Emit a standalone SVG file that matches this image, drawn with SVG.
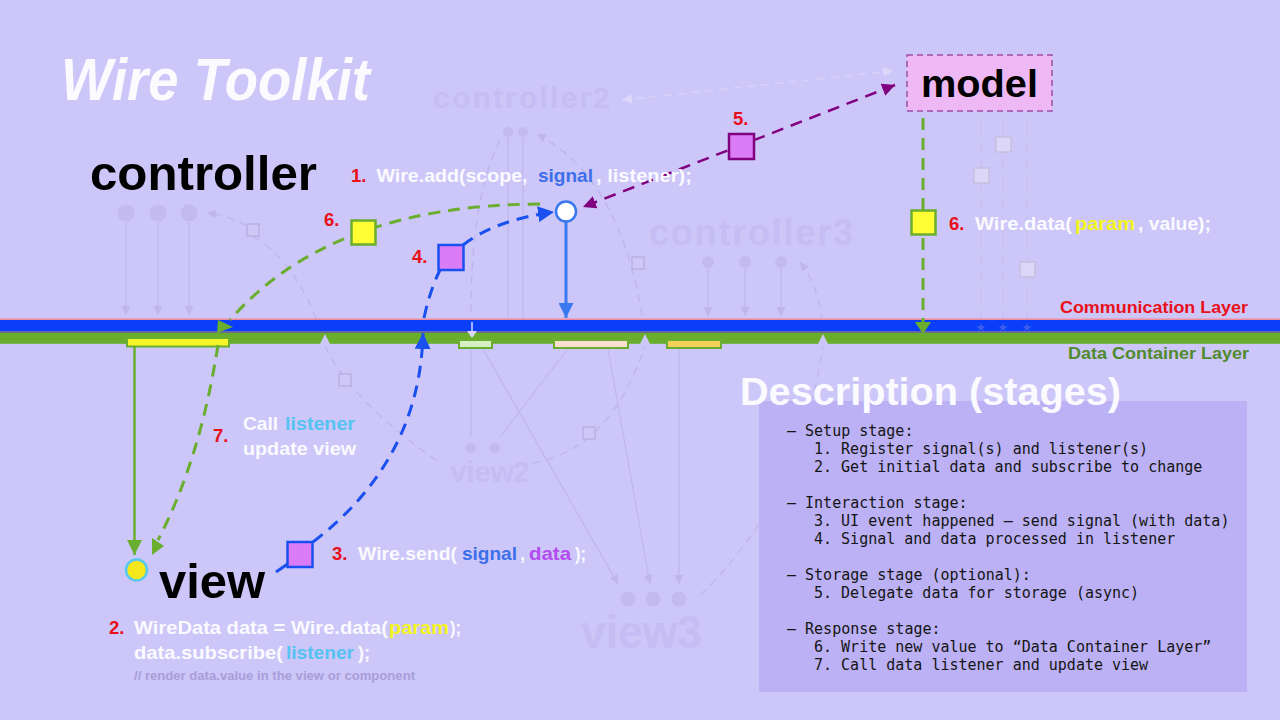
<svg xmlns="http://www.w3.org/2000/svg" width="1280" height="720" viewBox="0 0 1280 720">
<defs>
<style>
.lbl{font-family:"Liberation Sans",Arial,sans-serif;font-weight:bold}
.w{fill:#FAFAFF}
.red{fill:#E8101A}
.sig{fill:#3C6FEA}
.lis{fill:#55C3F2}
.par{fill:#F5F51E}
.dat{fill:#B44CF0}
.ghostT{font-family:"Liberation Sans",Arial,sans-serif;font-weight:bold;fill:#C5BDF3}
.gl{stroke:#BFB7EC;stroke-width:1.2;fill:none}
.gd{stroke:#BFB7EC;stroke-width:1.4;fill:none;stroke-dasharray:8 6}
.gc{fill:#C3BAEF}
.gsq{fill:#CFC8F6;stroke:#B8B0E0;stroke-width:1.4}
.gm{stroke:#C8C2E8;stroke-width:1.5;fill:none;stroke-dasharray:8 6}
.gmsq{fill:#DCD7F8;stroke:#C6C0E0;stroke-width:1.5}
.mono{font-family:"DejaVu Sans Mono","Liberation Mono",monospace;font-size:15px;fill:#151515}
.gdash{stroke:#6AAE2F;stroke-width:3;fill:none;stroke-dasharray:12 8}
.bdash{stroke:#1A50F0;stroke-width:3;fill:none;stroke-dasharray:12 8}
.pdash{stroke:#800080;stroke-width:2.5;fill:none;stroke-dasharray:12 8}
.psq{fill:#DA7CF6;stroke-width:2.5}
.ysq{fill:#FFFF33;stroke:#6AAE2F;stroke-width:2.5}
.dbox{stroke:#6AAE2F;stroke-width:2}
</style>
<marker id="aBlue" viewBox="0 0 10 10" refX="10" refY="5" markerWidth="15" markerHeight="15" markerUnits="userSpaceOnUse" orient="auto"><path d="M0,0 L10,5 L0,10z" fill="#3A78F0"/></marker>
<marker id="aBlueD" viewBox="0 0 10 10" refX="10" refY="5" markerWidth="16" markerHeight="16" markerUnits="userSpaceOnUse" orient="auto"><path d="M0,0 L10,5 L0,10z" fill="#1A50F0"/></marker>
<marker id="aPur" viewBox="0 0 10 10" refX="10" refY="5" markerWidth="13" markerHeight="13" markerUnits="userSpaceOnUse" orient="auto-start-reverse"><path d="M0,0 L10,5 L0,10z" fill="#800080"/></marker>
<marker id="aGreen" viewBox="0 0 10 10" refX="10" refY="5" markerWidth="15" markerHeight="15" markerUnits="userSpaceOnUse" orient="auto"><path d="M0,0 L10,5 L0,10z" fill="#6AAE2F"/></marker>
<marker id="aGhost" viewBox="0 0 10 10" refX="10" refY="5" markerWidth="9" markerHeight="9" markerUnits="userSpaceOnUse" orient="auto-start-reverse"><path d="M0,0 L10,5 L0,10z" fill="#BFB7EC"/></marker>
<marker id="aGhostL" viewBox="0 0 10 10" refX="10" refY="5" markerWidth="10" markerHeight="10" markerUnits="userSpaceOnUse" orient="auto-start-reverse"><path d="M0,0 L10,5 L0,10z" fill="#DDD8FA"/></marker>
</defs>

<rect width="1280" height="720" fill="#CDC6F8"/>

<!-- faint background elements -->
<g id="ghosts">
<text class="ghostT" x="433" y="108" font-size="30" textLength="177">controller2</text>
<text class="ghostT" x="649" y="245" font-size="36" textLength="204">controller3</text>
<text class="ghostT" x="450" y="482" font-size="30" textLength="80">view2</text>
<text class="ghostT" x="581" y="648" font-size="46" textLength="121" lengthAdjust="spacingAndGlyphs">view3</text>
<circle class="gc" cx="126" cy="213" r="8.5"/><circle class="gc" cx="158" cy="213" r="8.5"/><circle class="gc" cx="189" cy="213" r="8.5"/>
<circle class="gc" cx="508" cy="132" r="5"/><circle class="gc" cx="523" cy="132" r="5"/>
<circle class="gc" cx="708" cy="262" r="6"/><circle class="gc" cx="745" cy="262" r="6"/><circle class="gc" cx="781" cy="262" r="6"/>
<circle class="gc" cx="471" cy="448" r="5"/><circle class="gc" cx="495" cy="448" r="5"/>
<circle class="gc" cx="628" cy="599" r="7.5"/><circle class="gc" cx="653" cy="599" r="7.5"/><circle class="gc" cx="679" cy="599" r="7.5"/>
<path class="gl" d="M126 222 V315" marker-end="url(#aGhost)"/>
<path class="gl" d="M158 222 V315" marker-end="url(#aGhost)"/>
<path class="gl" d="M189 222 V315" marker-end="url(#aGhost)"/>
<path class="gl" d="M708 268 V316" marker-end="url(#aGhost)"/>
<path class="gl" d="M745 268 V316" marker-end="url(#aGhost)"/>
<path class="gl" d="M781 268 V316" marker-end="url(#aGhost)"/>
<path class="gl" d="M508 137 V318"/>
<path class="gl" d="M523 137 V318"/>
<path class="gl" d="M483 349 L618 584" marker-end="url(#aGhost)"/>
<path class="gl" d="M608 349 L650 584" marker-end="url(#aGhost)"/>
<path class="gl" d="M679 349 V584" marker-end="url(#aGhost)"/>
<path class="gl" d="M471 350 V437"/>
<path class="gl" d="M567 350 L500 437"/>
<path class="gd" d="M247 226 Q228 215 207 213" marker-end="url(#aGhost)"/>
<path class="gd" d="M253 236 Q300 265 322 336"/>
<path class="gd" d="M325 346 Q350 400 440 463"/>
<path class="gd" d="M537 134 Q625 180 645 336" marker-start="url(#aGhost)"/>
<path class="gd" d="M500 140 Q470 200 471 322"/>
<path class="gd" d="M533 463 Q610 450 645 346"/>
<path class="gd" d="M700 595 Q800 500 823 346"/>
<path class="gd" d="M800 262 Q822 290 823 336" marker-start="url(#aGhost)"/>
<rect class="gsq" x="247" y="224" width="12" height="12"/>
<rect class="gsq" x="339" y="374" width="12" height="12"/>
<rect class="gsq" x="632" y="257" width="12" height="12"/>
<rect class="gsq" x="583" y="427" width="12" height="12"/>
<path d="M622 100 L893 71" stroke="#D8D2F8" stroke-width="1.5" fill="none" stroke-dasharray="8 6" marker-start="url(#aGhostL)" marker-end="url(#aGhostL)"/>
<path class="gm" d="M981 117 V322"/><path class="gm" d="M1003 117 V322"/><path class="gm" d="M1027 117 V322"/>
<rect class="gmsq" x="974" y="168" width="15" height="15"/>
<rect class="gmsq" x="996" y="137" width="15" height="15"/>
<rect class="gmsq" x="1020" y="262" width="15" height="15"/>
</g>

<!-- layers -->
<g id="layers">
<rect x="0" y="318.5" width="1280" height="1.5" fill="#F08A9A"/>
<rect x="0" y="320" width="1280" height="11.5" fill="#0A3EF8"/>
<rect x="0" y="331.5" width="1280" height="1.3" fill="#5A4A7A"/>
<rect x="0" y="332.8" width="1280" height="11" fill="#69AD2D"/>
<polygon points="320,344 325,334 330,344" fill="#CDC6F8"/>
<polygon points="640,344 645,334 650,344" fill="#CDC6F8"/>
<polygon points="818,344 823,334 828,344" fill="#CDC6F8"/>
<g fill="#3E5FE6">
<polygon points="981,323 982.2,326.3 985.5,326.3 982.8,328.3 983.8,331.5 981,329.5 978.2,331.5 979.2,328.3 976.5,326.3 979.8,326.3"/>
<polygon points="1003,323 1004.2,326.3 1007.5,326.3 1004.8,328.3 1005.8,331.5 1003,329.5 1000.2,331.5 1001.2,328.3 998.5,326.3 1001.8,326.3"/>
<polygon points="1027,323 1028.2,326.3 1031.5,326.3 1028.8,328.3 1029.8,331.5 1027,329.5 1024.2,331.5 1025.2,328.3 1022.5,326.3 1025.8,326.3"/>
</g>
<rect class="dbox" x="127" y="338" width="102" height="8.5" fill="#F7F52A"/>
<rect class="dbox" x="459" y="340" width="33" height="8" fill="#D6EFC2"/>
<rect class="dbox" x="554" y="340" width="74" height="8" fill="#FADFD0"/>
<rect class="dbox" x="667" y="340" width="54" height="8" fill="#F4CF5A"/>
<path d="M472 322 V336" stroke="#DCD6FA" stroke-width="1.5"/>
<polygon points="467,331 477,331 472,338" fill="#DCD6FA"/>
<text class="lbl" x="1060" y="313" font-size="17" fill="#E8101A" textLength="188" lengthAdjust="spacingAndGlyphs">Communication Layer</text>
<text class="lbl" x="1068" y="359" font-size="16.5" fill="#4F8B2E" textLength="181" lengthAdjust="spacingAndGlyphs">Data Container Layer</text>
</g>

<!-- title -->
<text id="title" class="lbl w" x="61" y="100" font-size="60" font-style="italic" textLength="309" lengthAdjust="spacingAndGlyphs">Wire Toolkit</text>

<!-- connectors -->
<g id="connectors">
<path d="M566 221 V318" stroke="#3A78F0" stroke-width="3" fill="none" marker-end="url(#aBlue)"/>
<path class="pdash" d="M895 85 L583 207" marker-start="url(#aPur)" marker-end="url(#aPur)"/>
<path class="gdash" d="M540 204 Q330 205 230 320"/>
<polygon points="218,320 233,327 217,333" fill="#6AAE2F"/>
<path class="gdash" d="M218 345 Q200 460 158 540"/>
<polygon points="152,538 164,546 152,555" fill="#6AAE2F"/>
<path d="M134.5 347 V555" stroke="#6AAE2F" stroke-width="2.5" fill="none" marker-end="url(#aGreen)"/>
<path class="gdash" d="M923 118 V322"/>
<polygon points="915,322 931,322 923,334" fill="#6AAE2F"/>
<path d="M276 572 L289 563" stroke="#1A50F0" stroke-width="3"/>
<path class="bdash" d="M313 542 Q420 460 423 333" marker-end="url(#aBlueD)"/>
<path class="bdash" d="M424 318 Q430 290 440 270"/>
<path class="bdash" d="M463 245 Q495 220 554 212" marker-end="url(#aBlueD)"/>
</g>

<!-- nodes -->
<g id="node-controller">
<text class="lbl" x="90" y="190" font-size="48" fill="#000" textLength="227" lengthAdjust="spacingAndGlyphs">controller</text>
<circle cx="566" cy="211.5" r="10" fill="#FFFFFF" stroke="#3A78F0" stroke-width="2.5"/>
</g>

<g id="node-model">
<rect x="907" y="55" width="145" height="56" fill="#EDB8F4" stroke="#9B4FA5" stroke-width="1.5" stroke-dasharray="6 4"/>
<text class="lbl" x="921" y="97" font-size="39" fill="#000" textLength="117" lengthAdjust="spacingAndGlyphs">model</text>
</g>

<g id="node-view">
<text class="lbl" x="159" y="598" font-size="48" fill="#000" textLength="106" lengthAdjust="spacingAndGlyphs">view</text>
<circle cx="136.5" cy="570" r="10.5" fill="#F4E81C" stroke="#58C8F0" stroke-width="2.5"/>
</g>

<g id="squares">
<rect class="psq" x="287.5" y="542" width="25" height="25" stroke="#1A50F0"/>
<rect class="psq" x="438.5" y="245" width="25" height="25" stroke="#1A50F0"/>
<rect class="psq" x="729" y="134" width="25" height="25" stroke="#800080"/>
<rect class="ysq" x="351.5" y="220.5" width="24" height="24"/>
<rect class="ysq" x="911.5" y="210.5" width="24" height="24"/>
</g>

<!-- step labels -->
<g id="step1">
<text class="lbl red" x="351" y="182" font-size="18.5">1.</text>
<text class="lbl w" x="376.5" y="182" font-size="18.5" textLength="151" lengthAdjust="spacingAndGlyphs">Wire.add(scope,</text>
<text class="lbl sig" x="538" y="182" font-size="18.5" textLength="55" lengthAdjust="spacingAndGlyphs">signal</text>
<text class="lbl w" x="596" y="182" font-size="18.5" textLength="96" lengthAdjust="spacingAndGlyphs">, listener);</text>
</g>
<g id="step2">
<text class="lbl red" x="109" y="634" font-size="18.5">2.</text>
<text class="lbl w" x="134" y="634" font-size="18.5" textLength="254" lengthAdjust="spacingAndGlyphs">WireData data = Wire.data(</text>
<text class="lbl par" x="389" y="634" font-size="18.5" textLength="60" lengthAdjust="spacingAndGlyphs">param</text>
<text class="lbl w" x="450" y="634" font-size="18.5" textLength="11" lengthAdjust="spacingAndGlyphs">);</text>
<text class="lbl w" x="134" y="659" font-size="18.5" textLength="149" lengthAdjust="spacingAndGlyphs">data.subscribe(</text>
<text class="lbl lis" x="286" y="659" font-size="18.5" textLength="68" lengthAdjust="spacingAndGlyphs">listener</text>
<text class="lbl w" x="358" y="659" font-size="18.5" textLength="12" lengthAdjust="spacingAndGlyphs">);</text>
<text class="lbl" x="134" y="680" font-size="12" fill="#A79ED9" textLength="281" lengthAdjust="spacingAndGlyphs">// render data.value in the view or component</text>
</g>
<g id="step3">
<text class="lbl red" x="332" y="560" font-size="18.5">3.</text>
<text class="lbl w" x="358" y="560" font-size="18.5" textLength="99" lengthAdjust="spacingAndGlyphs">Wire.send(</text>
<text class="lbl sig" x="462" y="560" font-size="18.5" textLength="55" lengthAdjust="spacingAndGlyphs">signal</text>
<text class="lbl w" x="520" y="560" font-size="18.5">,</text>
<text class="lbl dat" x="529" y="560" font-size="18.5" textLength="42" lengthAdjust="spacingAndGlyphs">data</text>
<text class="lbl w" x="575" y="560" font-size="18.5" textLength="11" lengthAdjust="spacingAndGlyphs">);</text>
</g>
<g id="step4"><text class="lbl red" x="412" y="263" font-size="18.5">4.</text></g>
<g id="step5"><text class="lbl red" x="733" y="125" font-size="18.5">5.</text></g>
<g id="step6a"><text class="lbl red" x="324" y="226" font-size="18.5">6.</text></g>
<g id="step6b">
<text class="lbl red" x="949" y="230" font-size="18.5">6.</text>
<text class="lbl w" x="975" y="230" font-size="18.5" textLength="97" lengthAdjust="spacingAndGlyphs">Wire.data(</text>
<text class="lbl par" x="1075" y="230" font-size="18.5" textLength="60" lengthAdjust="spacingAndGlyphs">param</text>
<text class="lbl w" x="1138" y="230" font-size="18.5" textLength="73" lengthAdjust="spacingAndGlyphs">, value);</text>
</g>
<g id="step7">
<text class="lbl red" x="213" y="442" font-size="18.5">7.</text>
<text class="lbl w" x="243" y="430" font-size="18.5" textLength="35" lengthAdjust="spacingAndGlyphs">Call</text>
<text class="lbl lis" x="285" y="430" font-size="18.5" textLength="70" lengthAdjust="spacingAndGlyphs">listener</text>
<text class="lbl w" x="243" y="455" font-size="18.5" textLength="113" lengthAdjust="spacingAndGlyphs">update view</text>
</g>

<!-- description -->
<g id="description">
<rect x="759" y="401" width="488" height="291" fill="#BBB1F4"/>
<text class="lbl w" x="740" y="405" font-size="39" textLength="381" lengthAdjust="spacingAndGlyphs">Description (stages)</text>
<text class="mono" x="787" y="436">– Setup stage:</text>
<text class="mono" x="814" y="454">1. Register signal(s) and listener(s)</text>
<text class="mono" x="814" y="472">2. Get initial data and subscribe to change</text>
<text class="mono" x="787" y="508">– Interaction stage:</text>
<text class="mono" x="814" y="526">3. UI event happened – send signal (with data)</text>
<text class="mono" x="814" y="544">4. Signal and data processed in listener</text>
<text class="mono" x="787" y="580">– Storage stage (optional):</text>
<text class="mono" x="814" y="598">5. Delegate data for storage (async)</text>
<text class="mono" x="787" y="634">– Response stage:</text>
<text class="mono" x="814" y="652">6. Write new value to “Data Container Layer”</text>
<text class="mono" x="814" y="670">7. Call data listener and update view</text>
</g>
</svg>
